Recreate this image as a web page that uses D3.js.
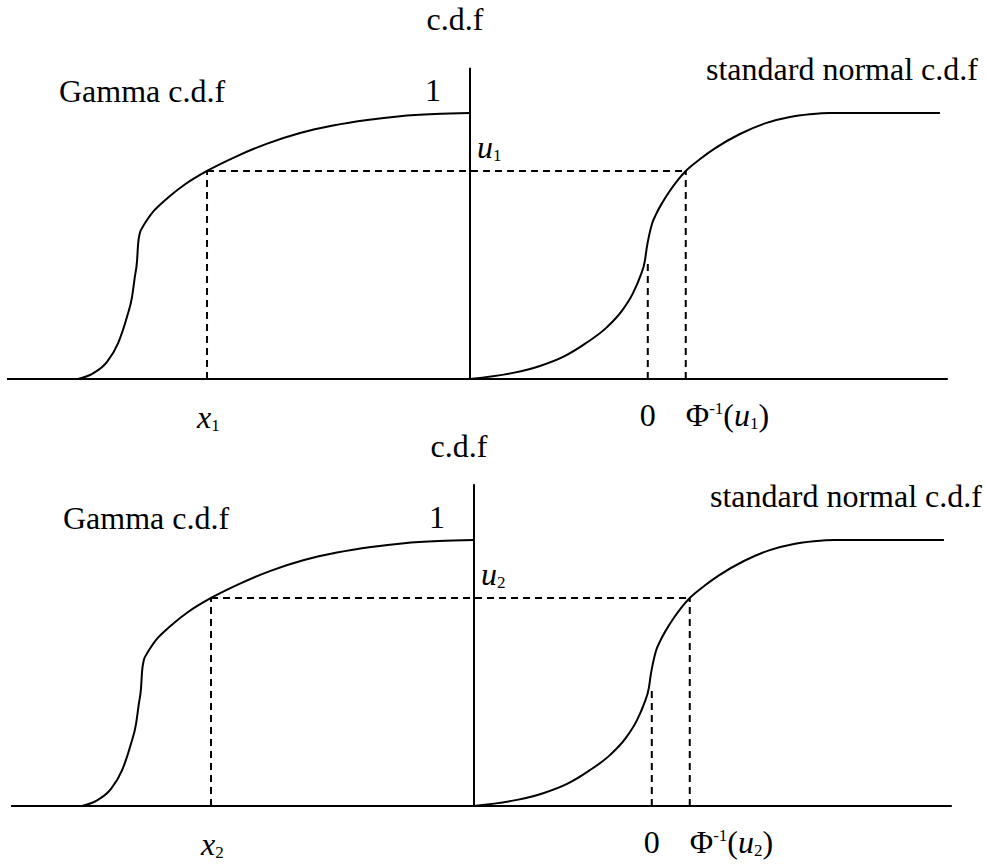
<!DOCTYPE html>
<html>
<head>
<meta charset="utf-8">
<script src="https://cdn.jsdelivr.net/npm/d3@7"></script>
<style>
	body { margin: 0; background: #fff; }
	svg text { font-family: "Liberation Serif", "Times New Roman", serif; fill: #000; }
</style>
</head>
<body>
<svg width="985" height="864"></svg>
<script>
"use strict";

// gamma c.d.f (left half), x in plot units, y = probability
var gammaX = [-84.7, -81.6, -78.4, -76.0, -74.1, -73.0, -72.4, -71.9, -71.7, -71.3, -70.8, -69.9,
	-68.7, -67.0, -64.8, -61.6, -56.8, -50.3, -43.8, -36.7, -29.6, -22.2, -15.1, -7.6, 0];
var gammaY = [0, 0.019, 0.064, 0.135, 0.233, 0.308, 0.383, 0.447, 0.504, 0.549, 0.568, 0.594,
	0.624, 0.654, 0.688, 0.731, 0.782, 0.838, 0.885, 0.925, 0.953, 0.974, 0.988, 0.996, 1.0];

// standard normal c.d.f (right half)
var normalX = [0, 9.3, 15.1, 20.1, 24.8, 29.6, 32.8, 35.2, 36.7, 37.8, 38.2, 38.7, 39.3, 40.2,
	41.5, 43.0, 44.7, 46.6, 49.7, 52.9, 58.3, 63.7, 69.1, 73.4, 77.8, 101.5];
var normalY = [0, 0.023, 0.049, 0.083, 0.132, 0.195, 0.256, 0.323, 0.383, 0.447, 0.496, 0.541, 0.583, 0.620,
	0.662, 0.703, 0.744, 0.782, 0.827, 0.867, 0.921, 0.961, 0.985, 0.995, 1.0, 1.0];

var axisExtent = [-100, 103.2];
var cdfAxisTop = [1.17, 1.21];
var uLevel = 0.782;
var gammaQuantile = -56.8;
var zeroX = 38.4, zeroCurveY = 0.45;
var normalQuantile = 46.6;
var subscripts = ["1", "2"];

function dataViz(){

	var svg = d3.select("svg");
	var offsets = [[0, 0], [4, 427]];

	var xScale = d3.scaleLinear().domain([-100, 0]).range([7, 470]);
	var yScale = d3.scaleLinear().domain([0, 1]).range([379, 113]);

	var cdfLine = d3.line()
		.x(function(d){ return xScale(d[0]); })
		.y(function(d){ return yScale(d[1]); })
		.curve(d3.curveMonotoneX);

	var gammaData = d3.zip(gammaX, gammaY);
	var normalData = d3.zip(normalX, normalY);

	subscripts.forEach(function(sub, i){

		var g = svg.append("g")
			.attr("transform", "translate(" + offsets[i][0] + "," + offsets[i][1] + ")");

		// axes
		g.append("line")
			.attr("x1", xScale(axisExtent[0])).attr("x2", xScale(axisExtent[1]))
			.attr("y1", yScale(0)).attr("y2", yScale(0))
			.attr("stroke", "black").attr("stroke-width", 2);

		g.append("line")
			.attr("x1", xScale(0)).attr("x2", xScale(0))
			.attr("y1", yScale(0)).attr("y2", yScale(cdfAxisTop[i]))
			.attr("stroke", "black").attr("stroke-width", 2);

		// dashed guides
		var dashes = [
			[[gammaQuantile, uLevel], [normalQuantile, uLevel]],
			[[gammaQuantile, 0], [gammaQuantile, uLevel]],
			[[zeroX, 0], [zeroX, zeroCurveY]],
			[[normalQuantile, 0], [normalQuantile, uLevel]]
		];
		g.selectAll("line.guide")
			.data(dashes)
			.enter()
			.append("line")
			.attr("class", "guide")
			.attr("x1", function(d){ return xScale(d[0][0]); })
			.attr("y1", function(d){ return yScale(d[0][1]); })
			.attr("x2", function(d){ return xScale(d[1][0]); })
			.attr("y2", function(d){ return yScale(d[1][1]); })
			.attr("stroke", "black")
			.attr("stroke-width", 2)
			.attr("stroke-dasharray", "7,5");

		// curves
		g.append("path")
			.attr("d", cdfLine(gammaData))
			.attr("fill", "none")
			.attr("stroke", "black")
			.attr("stroke-width", 2);

		g.append("path")
			.attr("d", cdfLine(normalData))
			.attr("fill", "none")
			.attr("stroke", "black")
			.attr("stroke-width", 2);

		// labels
		var fs = 32;
		g.append("text")
			.attr("x", xScale(0) - 15).attr("y", 30)
			.attr("text-anchor", "middle")
			.style("font-size", fs + "px")
			.text("c.d.f");

		g.append("text")
			.attr("x", 59).attr("y", 102)
			.style("font-size", fs + "px")
			.text("Gamma c.d.f");

		g.append("text")
			.attr("x", xScale(0) - 29).attr("y", 101)
			.attr("text-anchor", "end")
			.style("font-size", fs + "px")
			.text("1");

		g.append("text")
			.attr("x", 706).attr("y", 80)
			.style("font-size", fs + "px")
			.text("standard normal c.d.f");

		var uText = g.append("text")
			.attr("x", xScale(0) + 7).attr("y", 158)
			.style("font-size", fs + "px");
		uText.append("tspan").style("font-style", "italic").text("u");
		uText.append("tspan").attr("dy", 3).style("font-size", "17px").text(sub);

		var xText = g.append("text")
			.attr("x", xScale(gammaQuantile) - 10).attr("y", 428)
			.style("font-size", fs + "px");
		xText.append("tspan").style("font-style", "italic").text("x");
		xText.append("tspan").attr("dy", 3).style("font-size", "17px").text(sub);

		g.append("text")
			.attr("x", xScale(zeroX)).attr("y", 426)
			.attr("text-anchor", "middle")
			.style("font-size", fs + "px")
			.text("0");

		var phiText = g.append("text")
			.attr("x", xScale(normalQuantile)).attr("y", 426)
			.style("font-size", fs + "px");
		phiText.append("tspan").text("\u03A6");
		phiText.append("tspan").attr("dy", -12).style("font-size", "17px").text("-1");
		phiText.append("tspan").attr("dy", 12).text("(");
		phiText.append("tspan").style("font-style", "italic").text("u");
		phiText.append("tspan").attr("dy", 3).style("font-size", "17px").text(sub);
		phiText.append("tspan").attr("dy", -3).text(")");
	});
}

dataViz();
</script>
</body>
</html>
